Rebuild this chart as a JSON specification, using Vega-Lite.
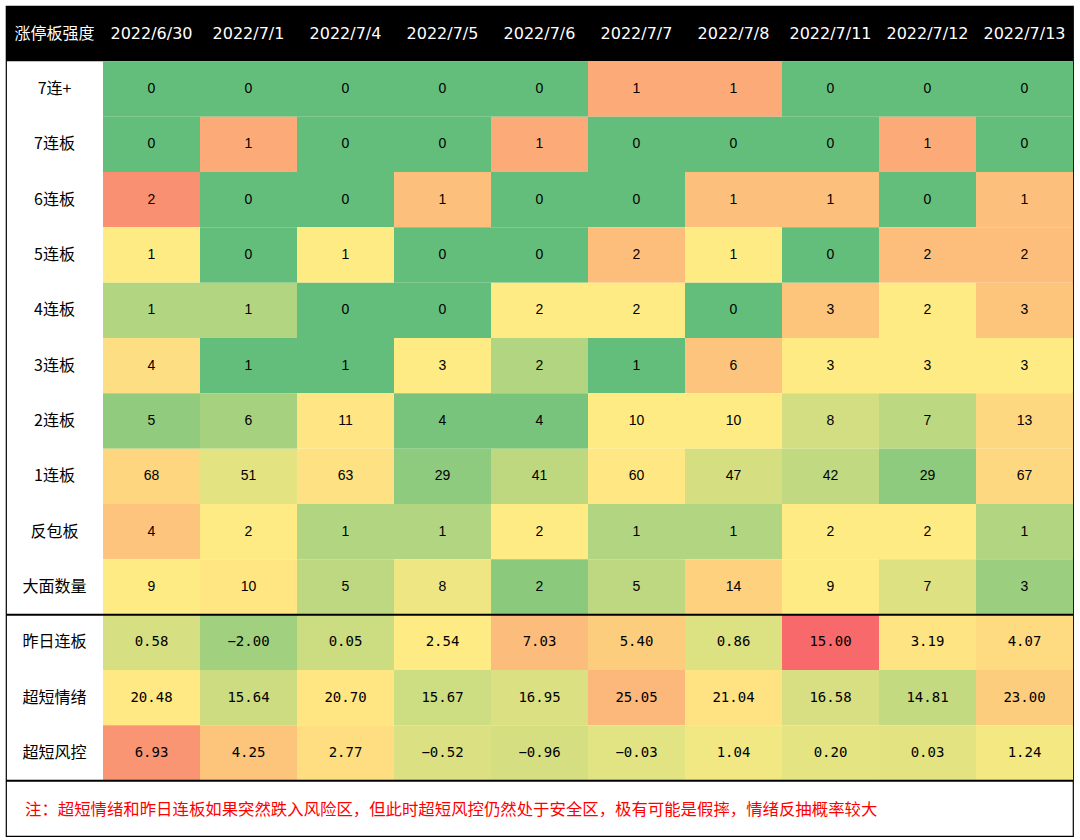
{
  "$schema": "https://vega.github.io/schema/vega-lite/v6.json",
  "width": 1067,
  "height": 830,
  "autosize": {"type": "none"},
  "padding": {"left": 6, "top": 6, "right": 7, "bottom": 4},
  "background": "#ffffff",
  "config": {"view": {"stroke": "#000000", "strokeWidth": 1.2}},
  "resolve": {"scale": {"color": "independent"}},
  "layer": [
    {
      "data": {"values": [
        {"date": "lbl", "text": "涨停板强度"},
        {"date": "2022/6/30", "text": "2022/6/30"},
        {"date": "2022/7/1", "text": "2022/7/1"},
        {"date": "2022/7/4", "text": "2022/7/4"},
        {"date": "2022/7/5", "text": "2022/7/5"},
        {"date": "2022/7/6", "text": "2022/7/6"},
        {"date": "2022/7/7", "text": "2022/7/7"},
        {"date": "2022/7/8", "text": "2022/7/8"},
        {"date": "2022/7/11", "text": "2022/7/11"},
        {"date": "2022/7/12", "text": "2022/7/12"},
        {"date": "2022/7/13", "text": "2022/7/13"}
      ]},
      "encoding": {
        "x": {"field": "date", "type": "nominal", "axis": null,
          "scale": {"domain": ["lbl", "2022/6/30", "2022/7/1", "2022/7/4", "2022/7/5", "2022/7/6", "2022/7/7", "2022/7/8", "2022/7/11", "2022/7/12", "2022/7/13"], "paddingInner": 0, "paddingOuter": 0}},
        "y": {"datum": "hdr", "type": "nominal", "axis": null,
          "scale": {"domain": ["hdr", "7连+", "7连板", "6连板", "5连板", "4连板", "3连板", "2连板", "1连板", "反包板", "大面数量", "昨日连板", "超短情绪", "超短风控", "note"], "paddingInner": 0, "paddingOuter": 0}}
      },
      "layer": [
        {"mark": {"type": "rect", "color": "#000000"}},
        {"mark": {"type": "text", "color": "#ffffff", "font": "DejaVu Sans, Noto Sans CJK SC", "fontSize": 16},
         "encoding": {"text": {"field": "text", "type": "nominal"}}}
      ]
    },
    {
      "data": {"values": [
        {"row": "7连+"}, {"row": "7连板"}, {"row": "6连板"}, {"row": "5连板"}, {"row": "4连板"},
        {"row": "3连板"}, {"row": "2连板"}, {"row": "1连板"}, {"row": "反包板"}, {"row": "大面数量"},
        {"row": "昨日连板"}, {"row": "超短情绪"}, {"row": "超短风控"}
      ]},
      "mark": {"type": "text", "color": "#000000", "font": "Noto Sans CJK SC", "fontSize": 16},
      "encoding": {
        "x": {"datum": "lbl", "type": "nominal"},
        "y": {"field": "row", "type": "nominal"},
        "text": {"field": "row", "type": "nominal"}
      }
    },
    {
      "data": {"values": [
        {"row": "7连+", "date": "2022/6/30", "value": 0},
        {"row": "7连+", "date": "2022/7/1", "value": 0},
        {"row": "7连+", "date": "2022/7/4", "value": 0},
        {"row": "7连+", "date": "2022/7/5", "value": 0},
        {"row": "7连+", "date": "2022/7/6", "value": 0},
        {"row": "7连+", "date": "2022/7/7", "value": 1},
        {"row": "7连+", "date": "2022/7/8", "value": 1},
        {"row": "7连+", "date": "2022/7/11", "value": 0},
        {"row": "7连+", "date": "2022/7/12", "value": 0},
        {"row": "7连+", "date": "2022/7/13", "value": 0},
        {"row": "7连板", "date": "2022/6/30", "value": 0},
        {"row": "7连板", "date": "2022/7/1", "value": 1},
        {"row": "7连板", "date": "2022/7/4", "value": 0},
        {"row": "7连板", "date": "2022/7/5", "value": 0},
        {"row": "7连板", "date": "2022/7/6", "value": 1},
        {"row": "7连板", "date": "2022/7/7", "value": 0},
        {"row": "7连板", "date": "2022/7/8", "value": 0},
        {"row": "7连板", "date": "2022/7/11", "value": 0},
        {"row": "7连板", "date": "2022/7/12", "value": 1},
        {"row": "7连板", "date": "2022/7/13", "value": 0},
        {"row": "6连板", "date": "2022/6/30", "value": 2},
        {"row": "6连板", "date": "2022/7/1", "value": 0},
        {"row": "6连板", "date": "2022/7/4", "value": 0},
        {"row": "6连板", "date": "2022/7/5", "value": 1},
        {"row": "6连板", "date": "2022/7/6", "value": 0},
        {"row": "6连板", "date": "2022/7/7", "value": 0},
        {"row": "6连板", "date": "2022/7/8", "value": 1},
        {"row": "6连板", "date": "2022/7/11", "value": 1},
        {"row": "6连板", "date": "2022/7/12", "value": 0},
        {"row": "6连板", "date": "2022/7/13", "value": 1},
        {"row": "5连板", "date": "2022/6/30", "value": 1},
        {"row": "5连板", "date": "2022/7/1", "value": 0},
        {"row": "5连板", "date": "2022/7/4", "value": 1},
        {"row": "5连板", "date": "2022/7/5", "value": 0},
        {"row": "5连板", "date": "2022/7/6", "value": 0},
        {"row": "5连板", "date": "2022/7/7", "value": 2},
        {"row": "5连板", "date": "2022/7/8", "value": 1},
        {"row": "5连板", "date": "2022/7/11", "value": 0},
        {"row": "5连板", "date": "2022/7/12", "value": 2},
        {"row": "5连板", "date": "2022/7/13", "value": 2},
        {"row": "4连板", "date": "2022/6/30", "value": 1},
        {"row": "4连板", "date": "2022/7/1", "value": 1},
        {"row": "4连板", "date": "2022/7/4", "value": 0},
        {"row": "4连板", "date": "2022/7/5", "value": 0},
        {"row": "4连板", "date": "2022/7/6", "value": 2},
        {"row": "4连板", "date": "2022/7/7", "value": 2},
        {"row": "4连板", "date": "2022/7/8", "value": 0},
        {"row": "4连板", "date": "2022/7/11", "value": 3},
        {"row": "4连板", "date": "2022/7/12", "value": 2},
        {"row": "4连板", "date": "2022/7/13", "value": 3},
        {"row": "3连板", "date": "2022/6/30", "value": 4},
        {"row": "3连板", "date": "2022/7/1", "value": 1},
        {"row": "3连板", "date": "2022/7/4", "value": 1},
        {"row": "3连板", "date": "2022/7/5", "value": 3},
        {"row": "3连板", "date": "2022/7/6", "value": 2},
        {"row": "3连板", "date": "2022/7/7", "value": 1},
        {"row": "3连板", "date": "2022/7/8", "value": 6},
        {"row": "3连板", "date": "2022/7/11", "value": 3},
        {"row": "3连板", "date": "2022/7/12", "value": 3},
        {"row": "3连板", "date": "2022/7/13", "value": 3},
        {"row": "2连板", "date": "2022/6/30", "value": 5},
        {"row": "2连板", "date": "2022/7/1", "value": 6},
        {"row": "2连板", "date": "2022/7/4", "value": 11},
        {"row": "2连板", "date": "2022/7/5", "value": 4},
        {"row": "2连板", "date": "2022/7/6", "value": 4},
        {"row": "2连板", "date": "2022/7/7", "value": 10},
        {"row": "2连板", "date": "2022/7/8", "value": 10},
        {"row": "2连板", "date": "2022/7/11", "value": 8},
        {"row": "2连板", "date": "2022/7/12", "value": 7},
        {"row": "2连板", "date": "2022/7/13", "value": 13},
        {"row": "1连板", "date": "2022/6/30", "value": 68},
        {"row": "1连板", "date": "2022/7/1", "value": 51},
        {"row": "1连板", "date": "2022/7/4", "value": 63},
        {"row": "1连板", "date": "2022/7/5", "value": 29},
        {"row": "1连板", "date": "2022/7/6", "value": 41},
        {"row": "1连板", "date": "2022/7/7", "value": 60},
        {"row": "1连板", "date": "2022/7/8", "value": 47},
        {"row": "1连板", "date": "2022/7/11", "value": 42},
        {"row": "1连板", "date": "2022/7/12", "value": 29},
        {"row": "1连板", "date": "2022/7/13", "value": 67},
        {"row": "反包板", "date": "2022/6/30", "value": 4},
        {"row": "反包板", "date": "2022/7/1", "value": 2},
        {"row": "反包板", "date": "2022/7/4", "value": 1},
        {"row": "反包板", "date": "2022/7/5", "value": 1},
        {"row": "反包板", "date": "2022/7/6", "value": 2},
        {"row": "反包板", "date": "2022/7/7", "value": 1},
        {"row": "反包板", "date": "2022/7/8", "value": 1},
        {"row": "反包板", "date": "2022/7/11", "value": 2},
        {"row": "反包板", "date": "2022/7/12", "value": 2},
        {"row": "反包板", "date": "2022/7/13", "value": 1},
        {"row": "大面数量", "date": "2022/6/30", "value": 9},
        {"row": "大面数量", "date": "2022/7/1", "value": 10},
        {"row": "大面数量", "date": "2022/7/4", "value": 5},
        {"row": "大面数量", "date": "2022/7/5", "value": 8},
        {"row": "大面数量", "date": "2022/7/6", "value": 2},
        {"row": "大面数量", "date": "2022/7/7", "value": 5},
        {"row": "大面数量", "date": "2022/7/8", "value": 14},
        {"row": "大面数量", "date": "2022/7/11", "value": 9},
        {"row": "大面数量", "date": "2022/7/12", "value": 7},
        {"row": "大面数量", "date": "2022/7/13", "value": 3},
        {"row": "昨日连板", "date": "2022/6/30", "value": 0.58},
        {"row": "昨日连板", "date": "2022/7/1", "value": -2.00},
        {"row": "昨日连板", "date": "2022/7/4", "value": 0.05},
        {"row": "昨日连板", "date": "2022/7/5", "value": 2.54},
        {"row": "昨日连板", "date": "2022/7/6", "value": 7.03},
        {"row": "昨日连板", "date": "2022/7/7", "value": 5.40},
        {"row": "昨日连板", "date": "2022/7/8", "value": 0.86},
        {"row": "昨日连板", "date": "2022/7/11", "value": 15.00},
        {"row": "昨日连板", "date": "2022/7/12", "value": 3.19},
        {"row": "昨日连板", "date": "2022/7/13", "value": 4.07},
        {"row": "超短情绪", "date": "2022/6/30", "value": 20.48},
        {"row": "超短情绪", "date": "2022/7/1", "value": 15.64},
        {"row": "超短情绪", "date": "2022/7/4", "value": 20.70},
        {"row": "超短情绪", "date": "2022/7/5", "value": 15.67},
        {"row": "超短情绪", "date": "2022/7/6", "value": 16.95},
        {"row": "超短情绪", "date": "2022/7/7", "value": 25.05},
        {"row": "超短情绪", "date": "2022/7/8", "value": 21.04},
        {"row": "超短情绪", "date": "2022/7/11", "value": 16.58},
        {"row": "超短情绪", "date": "2022/7/12", "value": 14.81},
        {"row": "超短情绪", "date": "2022/7/13", "value": 23.00},
        {"row": "超短风控", "date": "2022/6/30", "value": 6.93},
        {"row": "超短风控", "date": "2022/7/1", "value": 4.25},
        {"row": "超短风控", "date": "2022/7/4", "value": 2.77},
        {"row": "超短风控", "date": "2022/7/5", "value": -0.52},
        {"row": "超短风控", "date": "2022/7/6", "value": -0.96},
        {"row": "超短风控", "date": "2022/7/7", "value": -0.03},
        {"row": "超短风控", "date": "2022/7/8", "value": 1.04},
        {"row": "超短风控", "date": "2022/7/11", "value": 0.20},
        {"row": "超短风控", "date": "2022/7/12", "value": 0.03},
        {"row": "超短风控", "date": "2022/7/13", "value": 1.24}
      ]},
      "encoding": {
        "x": {"field": "date", "type": "nominal"},
        "y": {"field": "row", "type": "nominal"}
      },
      "resolve": {"scale": {"color": "independent"}},
      "layer": [
        {"transform": [{"filter": {"field": "row", "oneOf": ["7连+", "7连板"]}}], "mark": "rect",
         "encoding": {"color": {"field": "value", "type": "quantitative", "legend": null, "scale": {"domain": [0, 0.5, 1.5], "range": ["#63BE7B", "#FFEB84", "#F8696B"], "interpolate": "rgb", "clamp": true}}}},
        {"transform": [{"filter": {"field": "row", "equal": "6连板"}}], "mark": "rect",
         "encoding": {"color": {"field": "value", "type": "quantitative", "legend": null, "scale": {"domain": [0, 0.1, 2.8], "range": ["#63BE7B", "#FFEB84", "#F8696B"], "interpolate": "rgb", "clamp": true}}}},
        {"transform": [{"filter": {"field": "row", "equal": "5连板"}}], "mark": "rect",
         "encoding": {"color": {"field": "value", "type": "quantitative", "legend": null, "scale": {"domain": [0, 1, 3.9], "range": ["#63BE7B", "#FFEB84", "#F8696B"], "interpolate": "rgb", "clamp": true}}}},
        {"transform": [{"filter": {"field": "row", "equal": "4连板"}}], "mark": "rect",
         "encoding": {"color": {"field": "value", "type": "quantitative", "legend": null, "scale": {"domain": [0, 2, 5.3], "range": ["#63BE7B", "#FFEB84", "#F8696B"], "interpolate": "rgb", "clamp": true}}}},
        {"transform": [{"filter": {"field": "row", "equal": "3连板"}}], "mark": "rect",
         "encoding": {"color": {"field": "value", "type": "quantitative", "legend": null, "scale": {"domain": [1, 3, 13], "range": ["#63BE7B", "#FFEB84", "#F8696B"], "interpolate": "rgb", "clamp": true}}}},
        {"transform": [{"filter": {"field": "row", "equal": "2连板"}}], "mark": "rect",
         "encoding": {"color": {"field": "value", "type": "quantitative", "legend": null, "scale": {"domain": [3, 10, 30], "range": ["#63BE7B", "#FFEB84", "#F8696B"], "interpolate": "rgb", "clamp": true}}}},
        {"transform": [{"filter": {"field": "row", "equal": "1连板"}}], "mark": "rect",
         "encoding": {"color": {"field": "value", "type": "quantitative", "legend": null, "scale": {"domain": [17.5, 58, 120], "range": ["#63BE7B", "#FFEB84", "#F8696B"], "interpolate": "rgb", "clamp": true}}}},
        {"transform": [{"filter": {"field": "row", "equal": "反包板"}}], "mark": "rect",
         "encoding": {"color": {"field": "value", "type": "quantitative", "legend": null, "scale": {"domain": [0, 2, 8.7], "range": ["#63BE7B", "#FFEB84", "#F8696B"], "interpolate": "rgb", "clamp": true}}}},
        {"transform": [{"filter": {"field": "row", "equal": "大面数量"}}], "mark": "rect",
         "encoding": {"color": {"field": "value", "type": "quantitative", "legend": null, "scale": {"domain": [-0.4, 9, 34], "range": ["#63BE7B", "#FFEB84", "#F8696B"], "interpolate": "rgb", "clamp": true}}}},
        {"transform": [{"filter": {"field": "row", "equal": "昨日连板"}}], "mark": "rect",
         "encoding": {"color": {"field": "value", "type": "quantitative", "legend": null, "scale": {"domain": [-5, 2.54, 15], "range": ["#63BE7B", "#FFEB84", "#F8696B"], "interpolate": "rgb", "clamp": true}}}},
        {"transform": [{"filter": {"field": "row", "equal": "超短情绪"}}], "mark": "rect",
         "encoding": {"color": {"field": "value", "type": "quantitative", "legend": null, "scale": {"domain": [6, 20.25, 32.25], "range": ["#63BE7B", "#FFEB84", "#F8696B"], "interpolate": "rgb", "clamp": true}}}},
        {"transform": [{"filter": {"field": "row", "equal": "超短风控"}}], "mark": "rect",
         "encoding": {"color": {"field": "value", "type": "quantitative", "legend": null, "scale": {"domain": [-9, 2, 9.45], "range": ["#63BE7B", "#FFEB84", "#F8696B"], "interpolate": "rgb", "clamp": true}}}},
        {"transform": [{"filter": {"field": "row", "oneOf": ["7连+", "7连板", "6连板", "5连板", "4连板", "3连板", "2连板", "1连板", "反包板", "大面数量"]}}],
         "mark": {"type": "text", "color": "#000000", "font": "Liberation Sans", "fontSize": 14},
         "encoding": {"text": {"field": "value", "type": "quantitative", "format": "d"}}},
        {"transform": [{"filter": {"field": "row", "oneOf": ["昨日连板", "超短情绪", "超短风控"]}}],
         "mark": {"type": "text", "color": "#000000", "font": "DejaVu Sans Mono", "fontSize": 14},
         "encoding": {"text": {"field": "value", "type": "quantitative", "format": ".2f"}}}
      ]
    },
    {
      "data": {"values": [{"row": "昨日连板"}, {"row": "note"}]},
      "mark": {"type": "rule", "color": "#000000", "strokeWidth": 2},
      "encoding": {"y": {"field": "row", "type": "nominal", "bandPosition": 0}}
    },
    {
      "data": {"values": [{"text": "注：超短情绪和昨日连板如果突然跌入风险区，但此时超短风控仍然处于安全区，极有可能是假摔，情绪反抽概率较大"}]},
      "mark": {"type": "text", "color": "#FF0000", "font": "Noto Sans CJK SC", "fontSize": 16.4, "align": "left", "dx": 19, "dy": 2},
      "encoding": {
        "x": {"datum": "lbl", "type": "nominal", "bandPosition": 0},
        "y": {"datum": "note", "type": "nominal"},
        "text": {"field": "text", "type": "nominal"}
      }
    }
  ]
}
